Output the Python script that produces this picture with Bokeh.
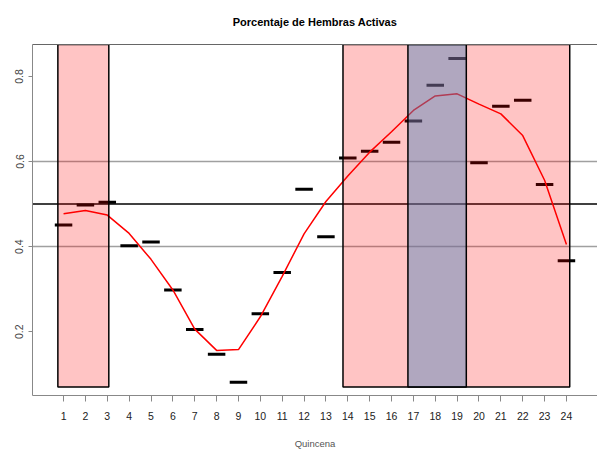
from bokeh.plotting import figure
from bokeh.models import FixedTicker, LinearAxis, Range1d, ColumnDataSource
from bokeh.embed import file_html
from bokeh.resources import INLINE

# ---- data ----
quincena = list(range(1, 25))
tick_labels = [str(q) for q in quincena]
observado = [0.451, 0.498, 0.504, 0.402, 0.411, 0.298, 0.205, 0.147, 0.081, 0.242,
             0.339, 0.535, 0.423, 0.608, 0.624, 0.645, 0.695, 0.779, 0.842, 0.597,
             0.730, 0.744, 0.546, 0.367]
ajustado = [0.477, 0.485, 0.474, 0.431, 0.370, 0.298, 0.206, 0.156, 0.158, 0.235,
            0.330, 0.430, 0.506, 0.566, 0.622, 0.670, 0.720, 0.754, 0.759, 0.735,
            0.712, 0.661, 0.556, 0.405]
band_left = [0.74, 13.78]
band_right = [3.07, 24.15]
purple_left = [16.75]
purple_right = [19.42]
band_bottom = 0.07
band_top = 0.875
ref_gray = [0.4, 0.6]
ref_black = [0.5]
y_ticks = [0.2, 0.4, 0.6, 0.8]
half_w = 0.4
X0, X1 = -0.42, 25.42

FONT = "Liberation Sans"

p = figure(width=597, height=451, output_backend="svg", toolbar_location=None,
           x_range=Range1d(X0, X1), y_range=Range1d(0.05, 0.875),
           min_border_left=32, min_border_right=0, min_border_top=44, min_border_bottom=10,
           title="Porcentaje de Hembras Activas")
p.outline_line_color = None
p.grid.visible = False
p.background_fill_color = "white"

p.title.align = "center"
p.title.vertical_align = "top"
p.title.offset = 0
p.title.text_font = FONT
p.title.text_font_size = "11px"
p.title.text_font_style = "bold"
p.title.text_color = "black"
p.title.standoff = 29

# axes
xa = p.xaxis[0]
xa.ticker = FixedTicker(ticks=quincena)
xa.major_label_overrides = {q: l for q, l in zip(quincena, tick_labels)}
xa.axis_label = "Quincena"
xa.axis_label_text_font = FONT
xa.axis_label_text_font_size = "9.5px"
xa.axis_label_text_font_style = "normal"
xa.axis_label_text_color = "#555555"
xa.axis_label_standoff = 15
xa.major_label_text_font = FONT
xa.major_label_text_font_size = "10.5px"
xa.major_label_text_color = "#222222"
xa.major_label_standoff = 10
xa.axis_line_color = "#888888"
xa.major_tick_line_color = "#888888"
xa.major_tick_out = 6
xa.major_tick_in = 0
xa.minor_tick_line_color = None

ya = p.yaxis[0]
ya.ticker = FixedTicker(ticks=y_ticks)
ya.major_label_orientation = "vertical"
ya.major_label_text_font = FONT
ya.major_label_text_font_size = "10.5px"
ya.major_label_text_color = "#444444"
ya.major_label_standoff = 5
ya.axis_line_color = "#888888"
ya.major_tick_line_color = "#888888"
ya.major_tick_out = 4
ya.major_tick_in = 0
ya.minor_tick_line_color = None

top_axis = LinearAxis(ticker=FixedTicker(ticks=[]), axis_line_color="#666666",
                      major_label_text_font_size="0px", major_tick_line_color=None,
                      minor_tick_line_color=None)
p.add_layout(top_axis, "above")

# reference lines
for v in ref_gray:
    p.line([X0, X1], [v, v], line_color="#a0a0a0", line_width=1.5)
for v in ref_black:
    p.line([X0, X1], [v, v], line_color="black", line_width=1.5)

# observed dashes
src = ColumnDataSource(dict(x0=[q - half_w for q in quincena], x1=[q + half_w for q in quincena],
                            y=observado))
p.segment(x0="x0", y0="y", x1="x1", y1="y", source=src, line_color="black", line_width=3)

# fitted curve
p.line(quincena, ajustado, line_color="#ff0000", line_width=1.5)

# bands on top, translucent
p.quad(left=band_left, right=band_right, bottom=band_bottom, top=band_top,
       fill_color="#ff0000", fill_alpha=0.23, line_color="black", line_width=1.5)
p.quad(left=purple_left, right=purple_right, bottom=band_bottom, top=band_top,
       fill_color="#4f86bb", fill_alpha=0.45, line_color="black", line_width=1.5)

open("out.html", "w").write(file_html(p, INLINE))
